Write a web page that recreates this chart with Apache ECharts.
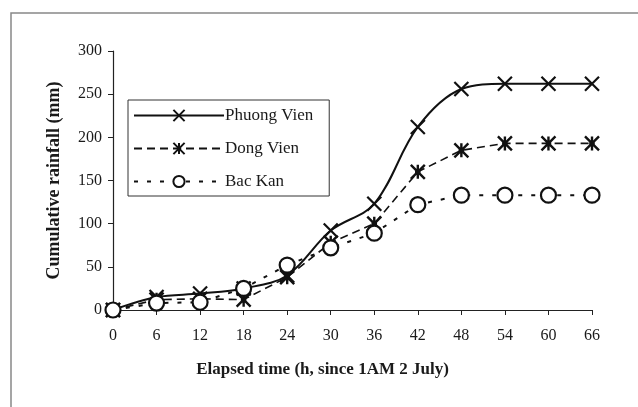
<!DOCTYPE html>
<html>
<head>
<meta charset="utf-8">
<script src="https://cdn.jsdelivr.net/npm/echarts@6/dist/echarts.min.js"></script>
<style>
  html, body { margin: 0; padding: 0; background: #fff; }
  #chart { width: 638px; height: 407px; }
</style>
</head>
<body>
<div id="chart"></div>
<script>
// elapsed hours since 1AM 2 July
const hours = [0, 6, 12, 18, 24, 30, 36, 42, 48, 54, 60, 66];
const phuongVien = [0, 15, 19, 25, 40, 92, 123, 212, 256, 262, 262, 262];
const dongVien = [0, 12, 13, 12, 38, 78, 100, 160, 185, 193, 193, 193];
const bacKan = [0, 8, 9, 25, 52, 72, 89, 122, 133, 133, 133, 133];

const crossPath = "path://M0,0L10,10M10,0L0,10";
const starPath = "path://M0,0L10,10M10,0L0,10M5,0L5,10M3,5L7,5";

const serif = "Liberation Serif";

function pairs(ys) {
    return hours.map((h, i) => [h, ys[i]]);
}

let myChart = echarts.init(document.getElementById("chart"));
myChart.setOption({
    animation: false,
    backgroundColor: "#fff",
    graphic: [
        {
            type: "rect",
            shape: { x: 11, y: 13, width: 700, height: 500 },
            style: { fill: "none", stroke: "#888", lineWidth: 1.5 },
        },
    ],
    grid: { left: 113, right: 46, top: 51, bottom: 97 },
    legend: {
        orient: "vertical",
        left: 128,
        top: 100,
        width: 202,
        padding: [7, 16, 6, 5],
        borderColor: "#333",
        borderWidth: 1,
        itemWidth: 90,
        itemHeight: 14,
        itemGap: 16,
        textStyle: { fontFamily: serif, fontSize: 17, color: "#1a1a1a", padding: [0, 0, 0, -4] },
        data: ["Phuong Vien", "Dong Vien", "Bac Kan"],
    },
    xAxis: {
        type: "value",
        min: 0,
        max: 66,
        interval: 6,
        name: "Elapsed time (h, since 1AM 2 July)",
        nameLocation: "center",
        nameGap: 51,
        nameTextStyle: { fontFamily: serif, fontSize: 17, fontWeight: "bold", color: "#1a1a1a", padding: [0, 60, 0, 0] },
        axisLine: { lineStyle: { color: "#222", width: 1.2 } },
        axisTick: { length: 5, lineStyle: { color: "#222" } },
        axisLabel: { fontFamily: serif, fontSize: 16, color: "#1a1a1a", margin: 18 },
        splitLine: { show: false },
    },
    yAxis: {
        type: "value",
        min: 0,
        max: 300,
        interval: 50,
        name: "Cumulative rainfall (mm)",
        nameLocation: "center",
        nameGap: 50,
        nameTextStyle: { fontFamily: serif, fontSize: 18, fontWeight: "bold", color: "#1a1a1a" },
        axisLine: { show: true, lineStyle: { color: "#222", width: 1.2 } },
        axisTick: { show: true, length: 5, lineStyle: { color: "#222" } },
        axisLabel: { fontFamily: serif, fontSize: 16, color: "#1a1a1a", margin: 11 },
        splitLine: { show: false },
    },
    series: [
        {
            name: "Phuong Vien",
            type: "line",
            smooth: 0.35,
            data: pairs(phuongVien),
            symbol: crossPath,
            symbolSize: 14,
            lineStyle: { color: "#111", width: 2 },
            itemStyle: { color: "#111", borderColor: "#111", borderWidth: 2.2 },
            z: 3,
        },
        {
            name: "Dong Vien",
            type: "line",
            data: pairs(dongVien),
            symbol: starPath,
            symbolSize: 14,
            lineStyle: { color: "#111", width: 1.6, type: [8, 5] },
            itemStyle: { color: "#111", borderColor: "#111", borderWidth: 2.4 },
            z: 2,
        },
        {
            name: "Bac Kan",
            type: "line",
            data: pairs(bacKan),
            symbol: "circle",
            symbolSize: 15,
            lineStyle: { color: "#111", width: 2, type: [4, 9] },
            itemStyle: { color: "#fff", borderColor: "#111", borderWidth: 2.2 },
            z: 4,
        },
    ],
});
</script>
</body>
</html>
